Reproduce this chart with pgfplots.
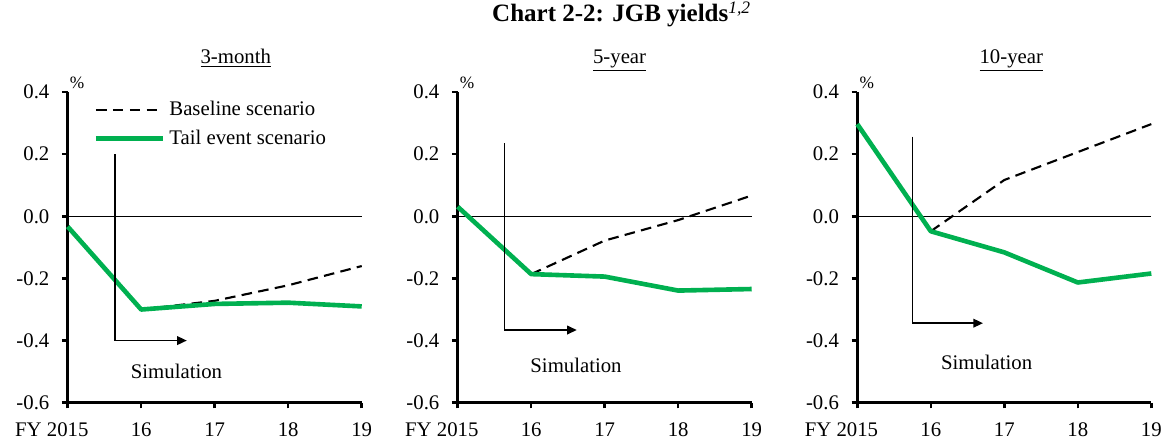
\documentclass[border=0pt]{standalone}
\usepackage{fontspec}
\setmainfont{Liberation Serif}
\usepackage{pgfplots}
\pgfplotsset{compat=1.18}
\usetikzlibrary{arrows.meta}
\definecolor{tailgreen}{RGB}{0,176,80}
\newcommand\bodyfont{\fontsize{10.8}{13}\selectfont}

\pgfplotsset{jgb/.style={
    scale only axis, width=152.9pt, height=161.5pt,
    anchor=south west, clip=false,
    xmin=0, xmax=4, ymin=-0.6, ymax=0.4,
    axis lines*=left,
    axis line style={line width=1.7pt},
    xtick={0,1,2,3,4},
    xticklabels={\llap{FY }2015,16,17,18,19},
    ytick={-0.6,-0.4,-0.2,0,0.2,0.4},
    yticklabels={-0.6,-0.4,-0.2,0.0,0.2,0.4},
    tick align=outside, major tick length=3pt,
    tick style={black, line width=1.3pt},
    ticklabel style={font=\bodyfont},
    xticklabel style={yshift=-4pt},
    yticklabel style={xshift=-3pt},
  }
}
\tikzset{
  base/.style={black, line width=1.1pt, dash pattern=on 5.5pt off 3.3pt},
  tail/.style={tailgreen, line width=2.4pt, line join=round},
  sim/.style={draw=black, line width=0.8pt, -{Triangle[length=5pt,width=4.5pt]}},
  pct/.style={anchor=south west, inner sep=0pt, font=\fontsize{9}{10}\selectfont, xshift=1pt, yshift=1.5pt}
}

\begin{document}
\begin{tikzpicture}[font=\bodyfont]
\useasboundingbox (0,0) rectangle (605.3pt,-228.3pt);
\node[anchor=base, font=\fontsize{13}{15}\selectfont\bfseries] at (323.3pt,-11.2pt)
  {Chart 2-2: JGB yields\textsuperscript{\normalfont\itshape 1,2}};
\node[anchor=base] at (122.6pt,-32.9pt) {\underline{3-month}};
\node[anchor=base] at (322.2pt,-32.9pt) {\underline{5-year}};
\node[anchor=base] at (525.9pt,-32.9pt) {\underline{10-year}};

% 3-month
\begin{axis}[jgb, at={(35.2pt,-209.4pt)},
    legend style={at={(rel axis cs:0.087,0.985)}, anchor=north west, draw=none,
      fill=none, inner sep=0pt, row sep=2pt, font=\bodyfont, cells={anchor=west}},
    legend image code/.code={\draw[#1] (0pt,0pt) -- (35pt,0pt);}]
  \draw[black, line width=0.8pt] (axis cs:0,0) -- (axis cs:4,0);
  \addplot[base] coordinates {(1,-0.30) (2,-0.272) (3,-0.222) (4,-0.16)};
  \addplot[tail] coordinates {(0,-0.033) (1,-0.30) (2,-0.282) (3,-0.278) (4,-0.29)};
  \legend{Baseline scenario, Tail event scenario}
  \draw[sim] (axis cs:0.64,0.2) -- (axis cs:0.64,-0.4) -- (axis cs:1.62,-0.4);
  \node at (axis cs:1.48,-0.5) {Simulation};
  \node[pct] at (rel axis cs:0,1) {\%};
\end{axis}

% 5-year
\begin{axis}[jgb, at={(238.0pt,-209.4pt)}]
  \draw[black, line width=0.8pt] (axis cs:0,0) -- (axis cs:4,0);
  \addplot[base] coordinates {(1,-0.186) (2,-0.078) (3,-0.012) (4,0.067)};
  \addplot[tail] coordinates {(0,0.031) (1,-0.186) (2,-0.194) (3,-0.239) (4,-0.234)};
  \draw[sim] (axis cs:0.64,0.235) -- (axis cs:0.64,-0.366) -- (axis cs:1.62,-0.366);
  \node at (axis cs:1.61,-0.48) {Simulation};
  \node[pct] at (rel axis cs:0,1) {\%};
\end{axis}

% 10-year
\begin{axis}[jgb, at={(445.8pt,-209.4pt)}]
  \draw[black, line width=0.8pt] (axis cs:0,0) -- (axis cs:4,0);
  \addplot[base] coordinates {(1,-0.048) (2,0.117) (3,0.207) (4,0.297)};
  \addplot[tail] coordinates {(0,0.297) (1,-0.048) (2,-0.116) (3,-0.213) (4,-0.184)};
  \draw[sim] (axis cs:0.75,0.257) -- (axis cs:0.75,-0.344) -- (axis cs:1.71,-0.344);
  \node at (axis cs:1.76,-0.47) {Simulation};
  \node[pct] at (rel axis cs:0,1) {\%};
\end{axis}
\end{tikzpicture}
\end{document}
